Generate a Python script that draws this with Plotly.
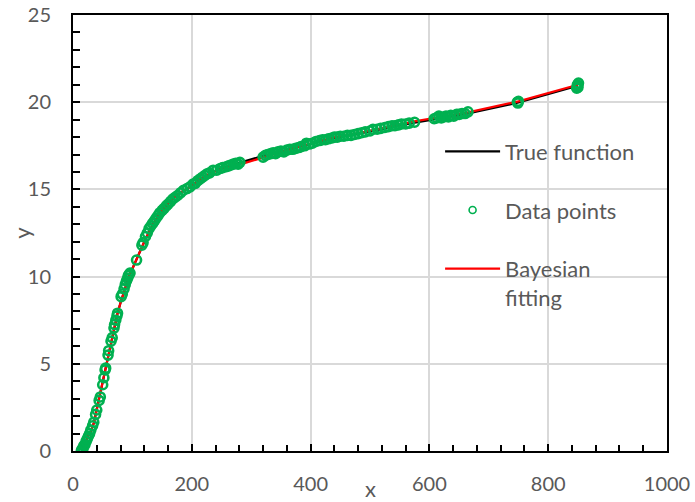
import plotly.graph_objects as go

# ---- data ----
line_x = [15, 20, 25, 30, 35, 40, 45, 50, 55, 60, 65, 70, 75, 80, 85, 90, 95, 100,
          110, 120, 130, 140, 150, 160, 170, 180, 190, 200, 215, 230, 250, 270, 290,
          320, 340, 360, 380, 400, 420, 440, 470, 500, 530, 575, 610, 640, 665, 750, 850]
true_y = [0.1, 0.4, 0.8, 1.15, 1.6, 2.4, 3.05, 3.9, 4.8, 5.65, 6.35, 7.2, 7.9, 8.5, 9.05,
          9.6, 10.1, 10.45, 11.25, 12.0, 12.7, 13.3, 13.8, 14.2, 14.55, 14.8, 15.0, 15.2,
          15.6, 15.9, 16.2, 16.42, 16.62, 16.92, 17.08, 17.25, 17.42, 17.6, 17.8, 17.95, 18.12,
          18.3, 18.52, 18.83, 19.05, 19.2, 19.35, 19.98, 20.95]
fit_y = [0.1, 0.4, 0.8, 1.15, 1.6, 2.4, 3.05, 3.9, 4.8, 5.65, 6.35, 7.2, 7.9, 8.5, 9.05,
         9.6, 10.1, 10.45, 11.25, 12.0, 12.7, 13.3, 13.8, 14.2, 14.55, 14.8, 15.0, 15.2,
         15.6, 15.9, 16.2, 16.4, 16.52, 16.84, 17.06, 17.25, 17.45, 17.62, 17.82, 17.98, 18.16,
         18.35, 18.58, 18.9, 19.12, 19.28, 19.42, 20.05, 21.0]

data_x = [14, 15, 17, 18, 20, 22, 24, 26, 28, 30, 33, 35, 38, 40, 44, 46, 50, 52, 54, 55,
          59, 60, 64, 66, 69, 70, 72, 74, 75, 81, 83, 86, 88, 90, 92, 93, 94, 96,
          107, 116, 118, 122, 125, 128, 131, 134, 137, 140, 143, 146, 150, 153, 157, 160,
          164, 168, 172, 176, 181, 186, 192, 197, 202, 206, 210, 214, 218, 222, 226, 230,
          236, 242, 248, 252, 258, 262, 266, 270, 274, 278, 281,
          320, 324, 328, 333, 337, 341, 345, 350, 355, 360, 365, 370, 375, 380, 384, 390,
          393, 398, 403, 409, 415, 420, 425, 430, 436, 440, 445, 450, 456, 462, 468, 474,
          480, 486, 492, 500, 505, 512, 518, 525, 531, 537, 542, 548, 553, 560, 566, 575,
          608, 612, 616, 620, 624, 628, 632, 636, 641, 646, 650, 655, 660, 665,
          748, 750, 749, 848, 850, 851, 849, 850]
data_y = [0.0, 0.1, 0.15, 0.3, 0.35, 0.55, 0.7, 0.85, 1.0, 1.2, 1.45, 1.65, 2.1, 2.35, 2.9,
          3.1, 3.8, 4.2, 4.65, 4.75, 5.5, 5.75, 6.3, 6.5, 7.05, 7.25, 7.5, 7.75, 7.9, 8.85,
          9.0, 9.3, 9.55, 9.75, 9.9, 10.05, 10.1, 10.2,
          10.95, 11.8, 11.95, 12.3, 12.5, 12.75, 12.9, 13.05, 13.2, 13.35, 13.5, 13.65,
          13.8, 13.9, 14.05, 14.15, 14.3, 14.45, 14.55, 14.65, 14.8, 14.95, 15.05, 15.15,
          15.3, 15.35, 15.5, 15.6, 15.7, 15.8, 15.9, 15.95, 16.1, 16.1, 16.2, 16.25, 16.3,
          16.35, 16.4, 16.45, 16.5, 16.45, 16.55,
          16.85, 16.95, 17.0, 17.05, 17.1, 17.05, 17.15, 17.2, 17.15, 17.25, 17.3, 17.3,
          17.35, 17.4, 17.45, 17.5, 17.65, 17.6, 17.65, 17.75, 17.8, 17.85, 17.85, 17.9,
          17.95, 18.0, 18.0, 18.05, 18.05, 18.1, 18.1, 18.15, 18.2, 18.25, 18.3, 18.35,
          18.45, 18.45, 18.5, 18.55, 18.6, 18.65, 18.65, 18.7, 18.75, 18.75, 18.8, 18.85,
          19.05, 19.1, 19.2, 19.1, 19.15, 19.2, 19.15, 19.25, 19.2, 19.3, 19.3, 19.35,
          19.35, 19.45,
          20.0, 20.05, 19.95, 20.8, 20.95, 21.1, 21.0, 20.85]

x_ticks = [0, 200, 400, 600, 800, 1000]
y_ticks = [0, 5, 10, 15, 20, 25]

GREEN = "#00B050"
TXT = "#595959"
FONT = "Lato"

fig = go.Figure()

fig.add_trace(go.Scatter(x=line_x, y=true_y, mode="lines", name="True function",
                         line=dict(color="black", width=2.2), legendgroup="a", legendrank=1))
fig.add_trace(go.Scatter(x=line_x, y=fit_y, mode="lines", name="Bayesian<br>fitting",
                         line=dict(color="#FF0000", width=2.2), legendgroup="c", legendrank=3))
fig.add_trace(go.Scatter(x=data_x, y=data_y, mode="markers", name="Data points",
                         marker=dict(symbol="circle-open", size=9, color=GREEN,
                                     line=dict(width=2.6, color=GREEN)),
                         showlegend=False))
# legend entry for data points (smaller marker, as in the reference legend)
fig.add_trace(go.Scatter(x=[None], y=[None], mode="markers", name="Data points",
                         marker=dict(symbol="circle-open", size=7, color=GREEN,
                                     line=dict(width=1.6, color=GREEN)),
                         legendgroup="b", legendrank=2))

axis_common = dict(
    showline=True, linecolor="black", linewidth=2, mirror=True,
    ticks="inside", ticklen=7, tickwidth=1.5, tickcolor="black",
    showgrid=True, gridcolor="#D9D9D9", gridwidth=1.5, zeroline=False,
    tickfont=dict(family=FONT, size=20, color=TXT), automargin=False,
)

fig.update_xaxes(range=[0, 1000], tickvals=x_ticks, ticklabelstandoff=14,
                 minor=dict(dtick=40, ticks="inside", ticklen=6, tickwidth=1.5,
                            tickcolor="black", showgrid=False),
                 **axis_common)
fig.update_yaxes(range=[0, 25], tickvals=y_ticks, ticklabelstandoff=16,
                 minor=dict(dtick=1, ticks="inside", ticklen=7, tickwidth=1.5,
                            tickcolor="black", showgrid=False),
                 **axis_common)

fig.update_layout(
    width=695, height=502,
    margin=dict(l=73, r=28, t=15, b=51),
    paper_bgcolor="white", plot_bgcolor="white",
    font=dict(family=FONT, size=20, color=TXT),
    showlegend=True,
    legend=dict(x=0.618, y=0.735, xanchor="left", yanchor="top",
                bgcolor="rgba(0,0,0,0)", traceorder="grouped", tracegroupgap=27,
                itemwidth=55, valign="top",
                font=dict(family=FONT, size=22, color=TXT)),
    annotations=[
        dict(text="x", xref="paper", yref="paper", x=0.5, y=-0.085,
             xanchor="center", yanchor="middle", showarrow=False,
             font=dict(family=FONT, size=22, color=TXT)),
        dict(text="y", xref="paper", yref="paper", x=-0.088, y=0.5,
             xanchor="center", yanchor="middle", showarrow=False, textangle=-90,
             font=dict(family=FONT, size=22, color=TXT)),
    ],
)

fig.write_html("out.html", config={"displayModeBar": False},
               post_script="document.body.style.margin='0';document.body.style.overflow='hidden';")
